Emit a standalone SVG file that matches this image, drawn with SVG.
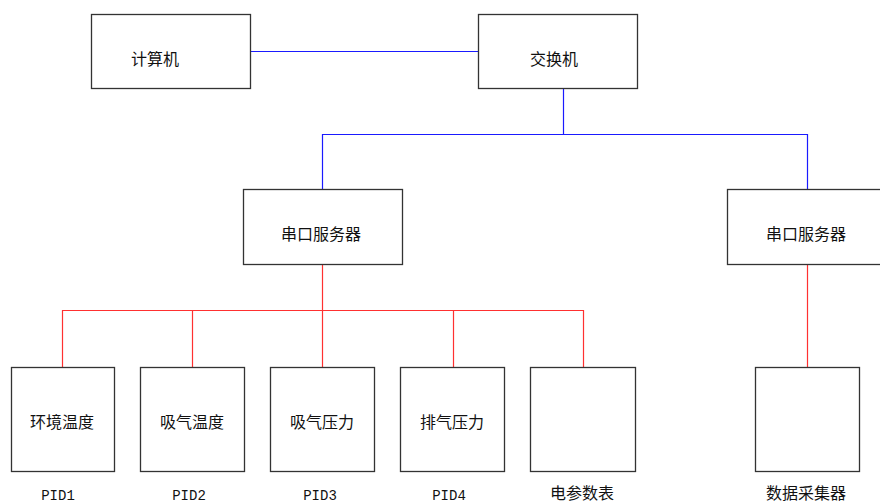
<svg xmlns="http://www.w3.org/2000/svg" width="880" height="504" viewBox="0 0 880 504">
<style>
.box{fill:#fff;stroke:#333;stroke-width:1.3}
.t{font-family:"Noto Sans CJK SC","Liberation Sans",sans-serif;font-size:16px;fill:#111;text-anchor:middle}
.l{font-family:"Liberation Mono","Noto Sans CJK SC",monospace;font-size:14px;fill:#111;text-anchor:middle}
.b{stroke:#1a1aff;stroke-width:1.2;fill:none}
.r{stroke:#ff3030;stroke-width:1.2;fill:none}
</style>
<rect width="880" height="504" fill="#fff"/>
<g id="connectors">
<path class="b" d="M250 51.5H478M563.5 88V134.5M322.5 134.5H807.5M322.5 134V189M807.5 134V189"/>
<path class="r" d="M322.5 264V310.5M62.5 310.5H583.5M62.5 310V367M192.5 310V367M322.5 310V367M453.5 310V367M583.5 310V367M807.5 264V367"/>
</g>
<g id="computer"><rect class="box" x="91.5" y="14.5" width="159" height="74"/><text class="t" x="155" y="65">计算机</text></g>
<g id="switch"><rect class="box" x="478.5" y="14.5" width="159" height="74"/><text class="t" x="554" y="65">交换机</text></g>
<g id="server1"><rect class="box" x="243.5" y="189.5" width="159" height="75"/><text class="t" x="321" y="240">串口服务器</text></g>
<g id="server2"><rect class="box" x="727.5" y="189.5" width="160" height="75"/><text class="t" x="806" y="240">串口服务器</text></g>
<g id="pid1"><rect class="box" x="11.5" y="367.5" width="103" height="104"/><text class="t" x="62" y="428">环境温度</text><text class="l" x="58" y="500">PID1</text></g>
<g id="pid2"><rect class="box" x="140.5" y="367.5" width="104" height="104"/><text class="t" x="192" y="428">吸气温度</text><text class="l" x="189" y="500">PID2</text></g>
<g id="pid3"><rect class="box" x="270.5" y="367.5" width="104" height="104"/><text class="t" x="322" y="428">吸气压力</text><text class="l" x="320" y="500">PID3</text></g>
<g id="pid4"><rect class="box" x="400.5" y="367.5" width="104" height="104"/><text class="t" x="452" y="428">排气压力</text><text class="l" x="449" y="500">PID4</text></g>
<g id="meter"><rect class="box" x="530.5" y="367.5" width="105" height="104"/><text class="t" x="582" y="499">电参数表</text></g>
<g id="collector"><rect class="box" x="755.5" y="367.5" width="104" height="104"/><text class="t" x="806" y="499">数据采集器</text></g>
</svg>
